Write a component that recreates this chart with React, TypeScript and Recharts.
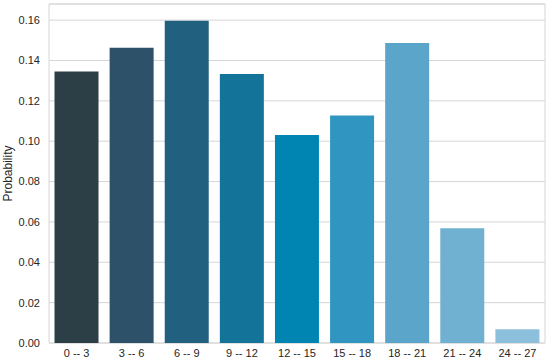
import { Bar, BarChart, CartesianGrid, Cell, ReferenceArea, XAxis, YAxis } from 'recharts';

const bins = ['0 -- 3', '3 -- 6', '6 -- 9', '9 -- 12', '12 -- 15', '15 -- 18', '18 -- 21', '21 -- 24', '24 -- 27'];
const probs = [0.1345, 0.1463, 0.1597, 0.1333, 0.1031, 0.1128, 0.1487, 0.0569, 0.0068];
const colors = ['#2c3f47', '#2c5168', '#21607f', '#147398', '#0085b3', '#3195c2', '#5ba5ca', '#70b0d1', '#8cbfdb'];
const yTicks = [0, 0.02, 0.04, 0.06, 0.08, 0.1, 0.12, 0.14, 0.16];
const yMax = 0.168;

const data = bins.map((bin, i) => ({ bin, p: probs[i] }));

const font = '"Liberation Sans", Arial, sans-serif';

export default function App() {
  return (
    <div style={{ position: 'absolute', left: 0, top: 0, fontFamily: font }}>
      <BarChart
        width={550}
        height={363}
        data={data}
        margin={{ top: 4, right: 5, bottom: 0, left: 0 }}
        barCategoryGap="10%"
      >
        <CartesianGrid vertical={false} stroke="#d6d6d6" strokeWidth={1} />
        <ReferenceArea y1={0} y2={yMax} fill="none" stroke="#d6d6d6" strokeWidth={1} />
        <XAxis
          dataKey="bin"
          height={20}
          axisLine={false}
          tickLine={false}
          tickMargin={0}
          interval={0}
          tick={{ fontSize: 11, fill: '#262626', fontFamily: font }}
        />
        <YAxis
          width={49}
          domain={[0, yMax]}
          ticks={yTicks}
          axisLine={false}
          tickLine={false}
          tickMargin={3}
          tickFormatter={(v: number) => v.toFixed(2)}
          tick={{ fontSize: 11, fill: '#262626', fontFamily: font }}
          label={{
            value: 'Probability',
            angle: -90,
            position: 'insideLeft',
            offset: 8,
            style: { fontSize: 12, fill: '#262626', fontFamily: font, textAnchor: 'middle' },
          }}
        />
        <Bar dataKey="p" isAnimationActive={false}>
          {data.map((d, i) => (
            <Cell key={d.bin} fill={colors[i]} />
          ))}
        </Bar>
      </BarChart>
    </div>
  );
}
